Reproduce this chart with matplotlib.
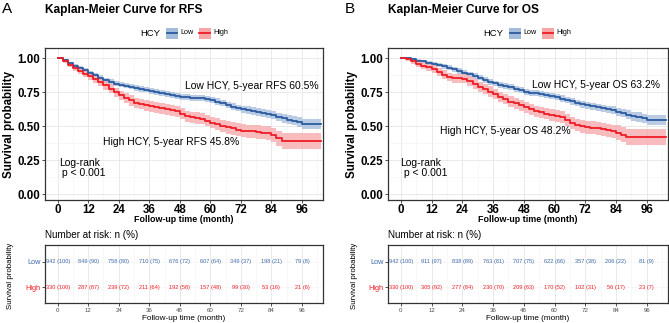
import numpy as np
import matplotlib.pyplot as plt
from matplotlib.patches import Rectangle
from matplotlib.lines import Line2D
from matplotlib.ticker import MultipleLocator

plt.rcParams['font.family'] = ['Liberation Sans', 'DejaVu Sans']

outputFileName = "out.png"

# ---- data ----
# common time grid (months), last point carries the curve to the right edge
t = list(range(0, 97, 2)) + [103.5]

rfs_low = [1.0, 0.985, 0.965, 0.945, 0.93, 0.91, 0.89, 0.875, 0.855, 0.838,
           0.825, 0.812, 0.803, 0.797, 0.789, 0.78, 0.773, 0.767, 0.759, 0.752,
           0.745, 0.737, 0.729, 0.722, 0.716, 0.712, 0.708, 0.707, 0.706, 0.698,
           0.69, 0.68, 0.668, 0.655, 0.642, 0.632, 0.625, 0.618, 0.61, 0.603,
           0.595, 0.59, 0.58, 0.568, 0.557, 0.548, 0.538, 0.528, 0.515, 0.513]
rfs_high = [1.0, 0.975, 0.95, 0.925, 0.905, 0.885, 0.865, 0.845, 0.822, 0.8,
            0.775, 0.748, 0.725, 0.705, 0.688, 0.672, 0.662, 0.652, 0.644, 0.638,
            0.63, 0.623, 0.616, 0.608, 0.59, 0.573, 0.563, 0.558, 0.555, 0.54,
            0.525, 0.513, 0.5, 0.49, 0.482, 0.473, 0.466, 0.463, 0.46, 0.455,
            0.452, 0.448, 0.432, 0.41, 0.39, 0.39, 0.39, 0.39, 0.39, 0.39]
os_low = [1.0, 0.998, 0.99, 0.98, 0.975, 0.965, 0.957, 0.95, 0.94, 0.928,
          0.916, 0.905, 0.893, 0.882, 0.868, 0.855, 0.838, 0.825, 0.813, 0.803,
          0.794, 0.785, 0.775, 0.763, 0.752, 0.746, 0.74, 0.733, 0.728, 0.72,
          0.712, 0.702, 0.692, 0.682, 0.67, 0.66, 0.652, 0.645, 0.637, 0.63,
          0.623, 0.615, 0.605, 0.594, 0.583, 0.573, 0.566, 0.556, 0.545, 0.545]
os_high = [1.0, 0.99, 0.975, 0.955, 0.945, 0.932, 0.92, 0.9, 0.878, 0.86,
           0.851, 0.851, 0.849, 0.83, 0.81, 0.79, 0.772, 0.753, 0.735, 0.715,
           0.698, 0.68, 0.667, 0.652, 0.638, 0.624, 0.61, 0.6, 0.592, 0.583,
           0.575, 0.565, 0.545, 0.525, 0.508, 0.498, 0.49, 0.488, 0.482, 0.475,
           0.468, 0.46, 0.452, 0.435, 0.421, 0.421, 0.421, 0.421, 0.421, 0.421]

# half width of the confidence bands
ci_low = [0.0, 0.006, 0.009, 0.011, 0.013, 0.014, 0.015, 0.016, 0.017, 0.018,
          0.018, 0.019, 0.019, 0.019, 0.02, 0.02, 0.02, 0.02, 0.021, 0.021,
          0.021, 0.021, 0.021, 0.021, 0.021, 0.022, 0.022, 0.022, 0.022, 0.023,
          0.023, 0.023, 0.024, 0.024, 0.025, 0.025, 0.026, 0.026, 0.027, 0.027,
          0.028, 0.029, 0.03, 0.031, 0.032, 0.033, 0.034, 0.035, 0.036, 0.036]
ci_high = [0.0, 0.012, 0.017, 0.02, 0.023, 0.025, 0.027, 0.029, 0.031, 0.032,
           0.034, 0.035, 0.036, 0.036, 0.037, 0.037, 0.038, 0.038, 0.038, 0.039,
           0.039, 0.039, 0.04, 0.04, 0.04, 0.041, 0.041, 0.042, 0.042, 0.043,
           0.043, 0.044, 0.045, 0.045, 0.046, 0.046, 0.047, 0.048, 0.049, 0.05,
           0.05, 0.051, 0.052, 0.055, 0.058, 0.059, 0.06, 0.06, 0.06, 0.06]

risk_times = [0, 12, 24, 36, 48, 60, 72, 84, 96]
rfs_risk_low = ["942 (100)", "849 (90)", "758 (80)", "710 (75)", "676 (72)",
                "607 (64)", "349 (37)", "198 (21)", "79 (8)"]
rfs_risk_high = ["330 (100)", "287 (87)", "239 (72)", "211 (64)", "192 (58)",
                 "157 (48)", "99 (30)", "53 (16)", "21 (6)"]
os_risk_low = ["942 (100)", "911 (97)", "838 (89)", "763 (81)", "707 (75)",
               "622 (66)", "357 (38)", "206 (22)", "81 (9)"]
os_risk_high = ["330 (100)", "305 (92)", "277 (84)", "230 (70)", "209 (63)",
                "170 (52)", "102 (31)", "56 (17)", "23 (7)"]

blue = "#2a5aa0"
red = "#ee1c25"
blue_fill = "#a3bcdc"
red_fill = "#f7a6a8"
grid_major = "#e6e6e6"
grid_minor = "#f2f2f2"

W, H = 669, 323
fig = plt.figure(figsize=(W / 100, H / 100), dpi=100)


def box(l, top, r, b):
    return [l / W, 1 - b / H, (r - l) / W, (b - top) / H]


def ftext(x, y, s, **kw):
    fig.text(x / W, 1 - y / H, s, **kw)


def style_axes(ax):
    for sp in ax.spines.values():
        sp.set_color("#333333")
        sp.set_linewidth(0.9)
    ax.grid(which="major", color=grid_major, lw=0.6)
    ax.grid(which="minor", color=grid_minor, lw=0.4)
    ax.set_axisbelow(True)
    ax.tick_params(which="minor", length=0)
    ax.tick_params(which="major", length=2.2, width=0.6, color="#333333")


def km_panel(x0, x1, letter, title, low, high, low_txt, low_xy, high_txt, high_xy,
             risk_low, risk_high):
    ax = fig.add_axes(box(x0, 48, x1, 200))
    tt = np.array(t)
    for s, c, fc, ci in [(low, blue, blue_fill, ci_low), (high, red, red_fill, ci_high)]:
        s = np.array(s)
        ax.fill_between(tt, s - np.array(ci), np.minimum(s + np.array(ci), 1.0),
                        step="post", color=fc, alpha=0.75, lw=0)
    for s, c in [(low, blue), (high, red)]:
        ax.step(tt, s, where="post", color=c, lw=1.3)
    ax.set_xlim(-5.0, 104.3)
    ax.set_ylim(-0.044, 1.074)
    ax.set_xticks(risk_times)
    ax.set_yticks([0, 0.25, 0.5, 0.75, 1.0])
    ax.set_yticklabels(["0.00", "0.25", "0.50", "0.75", "1.00"])
    ax.xaxis.set_minor_locator(MultipleLocator(6))
    ax.yaxis.set_minor_locator(MultipleLocator(0.125))
    style_axes(ax)
    ax.tick_params(labelsize=8.3)
    ax.tick_params(axis="x", pad=0.4)
    ax.tick_params(axis="y", pad=1.2)
    for lab in ax.get_xticklabels() + ax.get_yticklabels():
        lab.set_fontweight("bold")

    ax.text(low_xy[0], low_xy[1], low_txt, fontsize=7.5, ha="left", va="center")
    ax.text(high_xy[0], high_xy[1], high_txt, fontsize=7.5, ha="left", va="center")
    ax.text(low_xy[2], 0.19, "Log-rank\n p < 0.001", fontsize=7.5, ha="left",
            va="center", linespacing=0.95)

    # titles and labels
    ftext(x0 - 43, 9, letter, fontsize=11, ha="left", va="center")
    ftext(x0, 9.5, title, fontsize=8.6, fontweight="bold", ha="left", va="center")
    ftext((x0 + x1) / 2, 219, "Follow-up time (month)", fontsize=6.4,
          fontweight="bold", ha="center", va="center")
    ftext(x0 - 36, 125, "Survival probability", fontsize=8.3, fontweight="bold",
          rotation=90, ha="center", va="center")

    # legend
    lx = x0 + 95
    ftext(lx, 33, "HCY", fontsize=6.8, ha="left", va="center")
    for kx, c, fc, name in [(lx + 26, blue, blue_fill, "Low"), (lx + 59, red, red_fill, "High")]:
        fig.add_artist(Rectangle((kx / W, 1 - 38.5 / H), 11.5 / W, 10.5 / H,
                                 transform=fig.transFigure, color=fc, lw=0))
        fig.add_artist(Line2D([(kx + 0.5) / W, (kx + 11) / W], [1 - 33 / H, 1 - 33 / H],
                              transform=fig.transFigure, color=c, lw=1.3))
        ftext(kx + 14, 33, name, fontsize=5.2, ha="left", va="center")

    # risk table
    rax = fig.add_axes(box(x0, 245, x1, 303))
    rax.set_xlim(-5.0, 104.3)
    rax.set_ylim(-0.64, 1.68)
    rax.set_xticks(risk_times)
    rax.xaxis.set_minor_locator(MultipleLocator(6))
    rax.set_yticks([0, 1])
    rax.set_yticklabels(["High", "Low"])
    style_axes(rax)
    rax.grid(which="major", axis="y", color=grid_minor, lw=0.4)
    rax.tick_params(labelsize=4.4, labelcolor="#4d4d4d", pad=1.5)
    rax.tick_params(axis="y", labelsize=5.3, pad=1)
    rax.get_yticklabels()[0].set_color(red)
    rax.get_yticklabels()[1].set_color("#3d6aaa")
    for m, a, b in zip(risk_times, risk_low, risk_high):
        rax.text(m, 1, a, fontsize=4.1, color="#3d6aaa", ha="center", va="center")
        rax.text(m, 0, b, fontsize=4.1, color=red, ha="center", va="center")
    ftext(x0, 235, "Number at risk: n (%)", fontsize=7.1, ha="left", va="center")
    ftext((x0 + x1) / 2, 318, "Follow-up time (month)", fontsize=5.9,
          ha="center", va="center")
    ftext(x0 - 34, 276, "Survival probability", fontsize=5.7, rotation=90,
          ha="center", va="center")


km_panel(45, 323, "A", "Kaplan-Meier Curve for RFS", rfs_low, rfs_high,
         "Low HCY, 5-year RFS 60.5%", (50.2, 0.794, 0.4),
         "High HCY, 5-year RFS 45.8%", (18.0, 0.385),
         rfs_risk_low, rfs_risk_high)
km_panel(388, 668, "B", "Kaplan-Meier Curve for OS", os_low, os_high,
         "Low HCY, 5-year OS 63.2%", (51.2, 0.80, -0.1),
         "High HCY, 5-year OS 48.2%", (15.4, 0.466),
         os_risk_low, os_risk_high)

plt.savefig(outputFileName, dpi=100)
plt.close()
